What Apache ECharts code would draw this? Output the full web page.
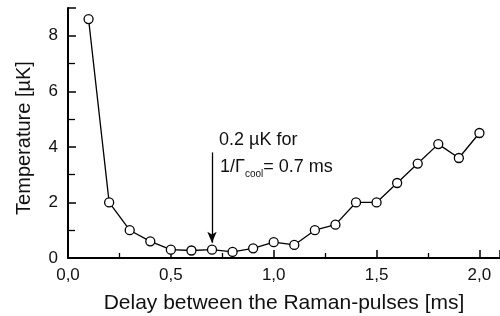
<!DOCTYPE html>
<html>
<head>
<meta charset="utf-8">
<script src="https://cdn.jsdelivr.net/npm/echarts@6/dist/echarts.min.js"></script>
<style>
    html, body { margin: 0; padding: 0; background: #fff; }
    #chart { width: 500px; height: 316px; }
</style>
</head>
<body>
<div id="chart"></div>
<script>
// delay [ms] vs temperature [uK]
var delays = [0.1, 0.2, 0.3, 0.4, 0.5, 0.6, 0.7, 0.8, 0.9, 1.0,
              1.1, 1.2, 1.3, 1.4, 1.5, 1.6, 1.7, 1.8, 1.9, 2.0];
var temps = [8.6, 2.0, 1.0, 0.6, 0.3, 0.27, 0.3, 0.22, 0.35, 0.57,
             0.47, 1.0, 1.2, 2.0, 2.0, 2.7, 3.4, 4.1, 3.6, 4.5];
var arrowFrom = [0.7, 3.8];
var arrowTo = [0.7, 0.55];

var font = 'Liberation Sans, Arial, sans-serif';

var chart = echarts.init(document.getElementById('chart'));
var points = [];
for (var i = 0; i < delays.length; i++) {
    points.push([delays[i], temps[i]]);
}

var option = {
    animation: false,
    grid: { left: 68, right: 0, top: 8, bottom: 58, outerBoundsMode: 'none' },
    xAxis: {
        type: 'value',
        min: 0, max: 2.1, interval: 0.5,
        name: 'Delay between the Raman-pulses [ms]',
        nameLocation: 'middle', nameGap: 35,
        nameTextStyle: { fontFamily: font, fontSize: 21, color: '#111' },
        axisLine: { lineStyle: { color: '#000', width: 2 } },
        axisTick: { inside: true, length: 8, lineStyle: { color: '#000', width: 1.5 } },
        minorTick: { show: true, splitNumber: 2, length: 5, lineStyle: { color: '#000', width: 1.3 } },
        splitLine: { show: false },
        axisLabel: {
            fontFamily: font, fontSize: 17, color: '#111', margin: 9,
            showMaxLabel: false,
            formatter: function (v) { return v.toFixed(1).replace('.', ','); }
        }
    },
    yAxis: {
        type: 'value',
        min: 0, max: 9, interval: 2,
        name: 'Temperature [\u00b5K]',
        nameLocation: 'middle', nameGap: 34,
        nameTextStyle: { fontFamily: font, fontSize: 20, color: '#111', padding: [0, 10, 0, 0] },
        axisLine: { show: true, lineStyle: { color: '#000', width: 2 } },
        axisTick: { show: true, inside: true, length: 8, lineStyle: { color: '#000', width: 1.5 } },
        minorTick: { show: true, splitNumber: 2, length: 7, lineStyle: { color: '#000', width: 1.3 } },
        splitLine: { show: false },
        axisLabel: {
            fontFamily: font, fontSize: 17, color: '#111', margin: 10,
            showMaxLabel: false
        }
    },
    graphic: [{
        type: 'text',
        left: 219, top: 131,
        style: { text: '0.2 \u00b5K for', fontFamily: font, fontSize: 18, fill: '#111' }
    }, {
        type: 'text',
        left: 220, top: 158,
        style: {
            text: '1/\u0393{s|cool}= 0.7 ms',
            fontFamily: font, fontSize: 18, fill: '#111',
            rich: { s: { fontFamily: font, fontSize: 10, fill: '#111', padding: [14, 0, 0, 0] } }
        }
    }],
    series: [{
        type: 'line',
        data: points,
        symbol: 'circle',
        symbolSize: 9,
        showAllSymbol: true,
        lineStyle: { color: '#000', width: 1.3 },
        itemStyle: { color: '#fff', borderColor: '#000', borderWidth: 1.3 },
        z: 3,
        markLine: {
            silent: true,
            symbol: ['none', 'arrow'],
            symbolSize: [7, 11],
            label: { show: false },
            lineStyle: { color: '#000', width: 1.3, type: 'solid' },
            data: [[{ coord: arrowFrom }, { coord: arrowTo }]]
        }
    }]
};
chart.setOption(option);
</script>
</body>
</html>
